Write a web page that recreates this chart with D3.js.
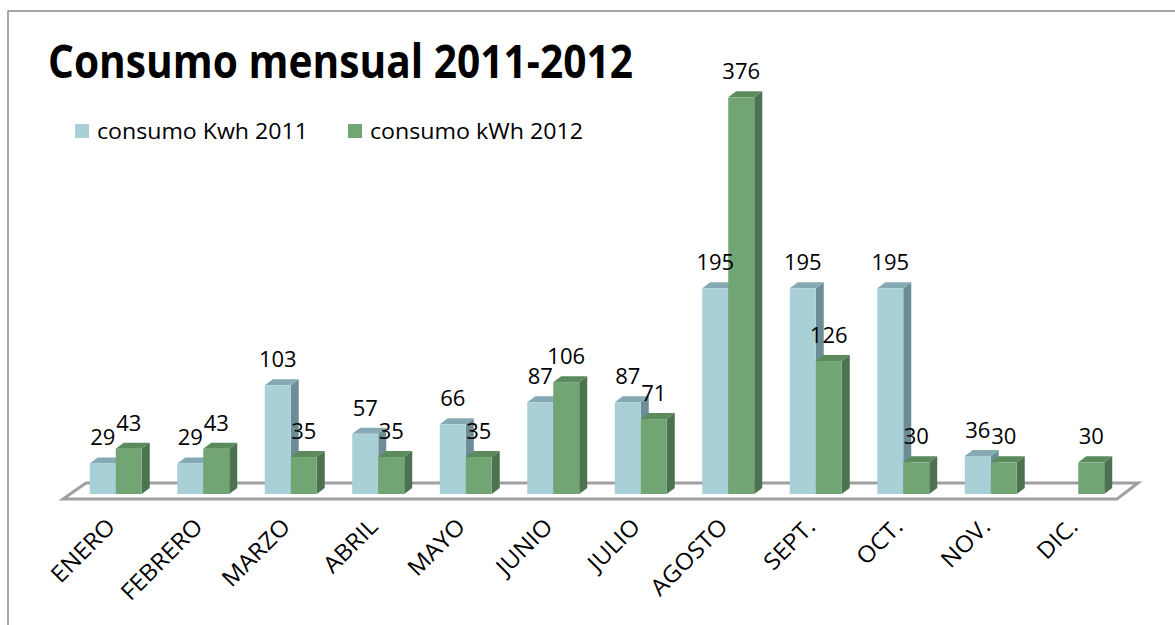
<!DOCTYPE html>
<html>
<head>
    <meta charset="utf-8">
    <style>
        body { margin: 0; background: white; }
        svg { display: block; }
        text { font-family: "Open Sans", "Noto Sans", sans-serif; fill: black; }
    </style>
</head>
<body>
    <svg width="1175" height="625"></svg>

<script src="https://d3js.org/d3.v7.min.js"></script>
<script>
    // data
    let months = ["ENERO", "FEBRERO", "MARZO", "ABRIL", "MAYO", "JUNIO", "JULIO", "AGOSTO", "SEPT.", "OCT.", "NOV.", "DIC."]
    let kwh2011 = [29, 29, 103, 57, 66, 87, 87, 195, 195, 195, 36, null]
    let kwh2012 = [43, 43, 35, 35, 35, 106, 71, 376, 126, 30, 30, 30]
    let seriesNames = ["consumo Kwh 2011", "consumo kWh 2012"]

    let colors = [
        { front: "#a9cfd7", top: "#86aab4", side: "#6d8d96" },
        { front: "#72a574", top: "#5b8a5d", side: "#4d7250" }
    ]

    let svg = d3.select("svg")

    // outer frame
    svg.append("rect")
        .attr("x", 8).attr("y", 11)
        .attr("width", 1200).attr("height", 700)
        .style("fill", "none")
        .style("stroke", "#8c8c8c")
        .style("stroke-width", 1.5)

    let x = d3.scaleBand()
        .domain(months)
        .range([72, 1122])
        .paddingInner(0.406)
        .paddingOuter(0.203)

    let xSub = d3.scaleBand()
        .domain([0, 1])
        .range([0, x.bandwidth()])

    let y = d3.scaleLinear()
        .domain([0, 400])
        .range([494, 72])

    let dx = 8, dy = -6

    // floor
    let r = x.range()
    let floorPts = [[r[0] - 9, 499], [r[1] - 5, 499], [r[1] + 16, 483], [r[0] + 14, 483]]
    svg.append("polygon")
        .attr("points", floorPts.map(p => p.join(",")).join(" "))
        .style("fill", "white")
        .style("stroke", "#a0a0a0")
        .style("stroke-width", 3)
        .style("stroke-linejoin", "miter")

    // build flat list of bars
    let bars = []
    months.forEach((m, i) => {
        [kwh2011[i], kwh2012[i]].forEach((v, s) => {
            if (v != null) bars.push({ month: m, s: s, value: v })
        })
    })

    let g = svg.selectAll(".bar")
        .data(bars)
        .join("g")
        .attr("class", "bar")

    g.append("path")
        .attr("d", d => {
            let x0 = x(d.month) + xSub(d.s), w = xSub.bandwidth()
            let yt = y(d.value), yb = y(0)
            return `M${x0 + w},${yt} L${x0 + w + dx},${yt + dy} L${x0 + w + dx},${yb + dy} L${x0 + w},${yb} Z`
        })
        .style("fill", d => colors[d.s].side)

    g.append("path")
        .attr("d", d => {
            let x0 = x(d.month) + xSub(d.s), w = xSub.bandwidth()
            let yt = y(d.value)
            return `M${x0},${yt} L${x0 + dx},${yt + dy} L${x0 + w + dx},${yt + dy} L${x0 + w},${yt} Z`
        })
        .style("fill", d => colors[d.s].top)

    g.append("rect")
        .attr("x", d => x(d.month) + xSub(d.s))
        .attr("y", d => y(d.value))
        .attr("width", xSub.bandwidth())
        .attr("height", d => y(0) - y(d.value))
        .style("fill", d => colors[d.s].front)

    // value labels
    svg.selectAll(".val")
        .data(bars)
        .join("text")
        .attr("class", "val")
        .attr("x", d => x(d.month) + xSub(d.s) + xSub.bandwidth() / 2)
        .attr("y", d => y(d.value) - 18)
        .attr("text-anchor", "middle")
        .style("font-size", "22px")
        .text(d => d.value)

    // month labels (a bit wide, like the original)
    svg.selectAll(".month")
        .data(months)
        .join("text")
        .attr("class", "month")
        .attr("text-anchor", "end")
        .attr("transform", d => `translate(${x(d) + x.bandwidth() / 2 + 1},528) rotate(-45) scale(1.06,1)`)
        .style("font-size", "23px")
        .text(d => d)

    // title
    svg.append("text")
        .attr("x", 48).attr("y", 78)
        .attr("textLength", 585)
        .attr("lengthAdjust", "spacingAndGlyphs")
        .style("font-size", "47px")
        .style("font-weight", "bold")
        .text("Consumo mensual 2011-2012")

    // legend
    let legendX = [75, 348]
    let legendW = [211, 213]
    seriesNames.forEach((name, i) => {
        svg.append("rect")
            .attr("x", legendX[i]).attr("y", 124)
            .attr("width", 14).attr("height", 14)
            .style("fill", colors[i].front)
        svg.append("text")
            .attr("x", legendX[i] + 22).attr("y", 139)
            .attr("textLength", legendW[i])
            .attr("lengthAdjust", "spacingAndGlyphs")
            .style("font-size", "21px")
            .text(name)
    })
</script>
</body>
</html>
